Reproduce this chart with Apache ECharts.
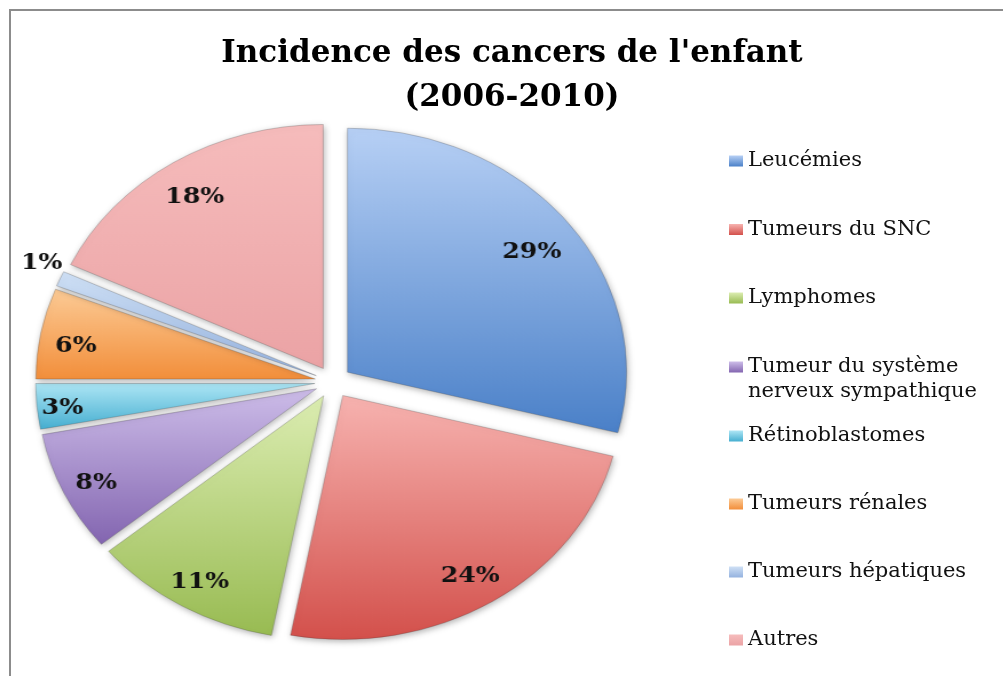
<!DOCTYPE html>
<html>
<head>
<meta charset="utf-8">
<title>Incidence des cancers de l'enfant</title>
<script src="https://cdn.jsdelivr.net/npm/echarts@6/dist/echarts.min.js"></script>
<style>
  html, body { margin: 0; padding: 0; background: #fff; }
  .wrap { position: relative; width: 1003px; height: 676px; overflow: hidden; }
  /* the Excel pie is an ellipse, so the pie layer is stretched horizontally */
  #pie {
    position: absolute; left: 0; top: 0; width: 1003px; height: 676px;
    transform: scaleX(1.144); transform-origin: 333px 382px;
  }
  #main { position: absolute; left: 0; top: 0; width: 1003px; height: 676px; }
</style>
</head>
<body>
<div class="wrap">
  <div id="pie"></div>
  <div id="main"></div>
</div>
<script>
// data
const categories = [
  'Leucémies',
  'Tumeurs du SNC',
  'Lymphomes',
  'Tumeur du système nerveux sympathique',
  'Rétinoblastomes',
  'Tumeurs rénales',
  'Tumeurs hépatiques',
  'Autres'
];
const shares = [29, 24, 11, 8, 3, 6, 1, 18];

// styles
const topColors = ['#b7d0f5', '#f7b3b0', '#dcedb2', '#cdbde9', '#aee6f5', '#fccb96', '#cfe0f5', '#f6bcbc'];
const bottomColors = ['#4a80c8', '#d3504b', '#98bb52', '#8365b0', '#45aed0', '#f28e3a', '#94b2df', '#eba3a5'];

// small hand tweaks of the percentage labels, in screen px [dx, dy]
const labelNudge = [[-8, 11], [-3, 1], [0, 3], [0, 4], [-10, 5], [0, 7], [29, -8], [2, 8]];

const stretch = 1.144

const grad = (i) => new echarts.graphic.LinearGradient(0, 0, 0, 1, [
  { offset: 0, color: topColors[i] },
  { offset: 1, color: bottomColors[i] }
])

const serifFont = 'DejaVu Serif'
const pieCenter = [333, 382]
const pieRadius = 244
const explode = 16

const sliceStyle = {
  borderColor: 'rgba(60, 60, 60, 0.25)',
  borderWidth: 1,
  shadowBlur: 6,
  shadowColor: 'rgba(0, 0, 0, 0.3)',
  shadowOffsetX: 1,
  shadowOffsetY: 2
}

// pie layer
const pieChart = echarts.init(document.getElementById('pie'), null, { renderer: 'canvas' })
pieChart.setOption({
  backgroundColor: 'transparent',
  animation: false,
  series: [
    {
      type: 'pie',
      center: pieCenter,
      radius: pieRadius,
      startAngle: 90,
      clockwise: true,
      selectedMode: 'multiple',
      selectedOffset: explode,
      avoidLabelOverlap: false,
      silent: true,
      label: { show: false },
      labelLine: { show: false },
      itemStyle: sliceStyle,
      select: { itemStyle: sliceStyle },
      emphasis: { disabled: true },
      data: categories.map((name, i) => ({
        name,
        value: shares[i],
        selected: true,
        itemStyle: { color: grad(i) }
      }))
    },
    {
      // transparent ring only used to place the labels near the rim
      type: 'pie',
      center: pieCenter,
      radius: [pieRadius * 0.72, pieRadius],
      startAngle: 90,
      clockwise: true,
      selectedMode: 'multiple',
      selectedOffset: explode,
      avoidLabelOverlap: false,
      silent: true,
      itemStyle: { color: 'rgba(0,0,0,0)', borderWidth: 0 },
      select: { itemStyle: { color: 'rgba(0,0,0,0)', borderWidth: 0 } },
      emphasis: { disabled: true },
      label: {
        show: true,
        position: 'inside',
        formatter: '{c}%',
        fontFamily: serifFont,
        fontWeight: 'bold',
        fontSize: 22,
        color: '#111'
      },
      labelLine: { show: false, length: 20, length2: 0 },
      labelLayout: (p) => ({
        dx: labelNudge[p.dataIndex][0] / stretch,
        dy: labelNudge[p.dataIndex][1]
      }),
      data: categories.map((name, i) => ({
        name,
        value: shares[i],
        selected: true,
        label: i === 6 ? { position: 'outside' } : undefined
      }))
    }
  ]
})

// title, legend and frame layer
const legendText = {
  fontFamily: serifFont,
  fontSize: 21,
  lineHeight: 25,
  color: '#111'
}
const legendBase = {
  orient: 'vertical',
  left: 729,
  padding: 0,
  itemWidth: 14,
  itemHeight: 11,
  icon: 'rect',
  selectedMode: false,
  textStyle: legendText,
  // the two-line entry keeps its marker on the first line
  formatter: (name) => name === categories[3] ? '\nTumeur du système\nnerveux sympathique' : name
}

const mainChart = echarts.init(document.getElementById('main'))
mainChart.setOption({
  backgroundColor: 'transparent',
  animation: false,
  title: {
    text: "Incidence des cancers de l'enfant\n(2006-2010)",
    left: 512,
    top: 32,
    padding: 0,
    textAlign: 'center',
    textStyle: {
      fontFamily: serifFont,
      fontWeight: 'bold',
      fontSize: 31,
      lineHeight: 44,
      color: '#000'
    }
  },
  legend: [
    Object.assign({}, legendBase, { top: 148.5, itemGap: 43.5, data: categories.slice(0, 3) }),
    Object.assign({}, legendBase, { top: 329.5, data: categories.slice(3, 4) }),
    Object.assign({}, legendBase, { top: 423.5, itemGap: 43, data: categories.slice(4) })
  ],
  graphic: [
    {
      type: 'rect',
      silent: true,
      shape: { x: 10, y: 10, width: 1100, height: 800 },
      style: { fill: 'none', stroke: '#8c8c8c', lineWidth: 2 }
    }
  ],
  series: [
    {
      // off-screen copy that only feeds the legend its colours
      type: 'pie',
      center: [-500, -500],
      radius: 1,
      silent: true,
      label: { show: false },
      labelLine: { show: false },
      data: categories.map((name, i) => ({
        name,
        value: shares[i],
        itemStyle: { color: grad(i) }
      }))
    }
  ]
})
</script>
</body>
</html>
